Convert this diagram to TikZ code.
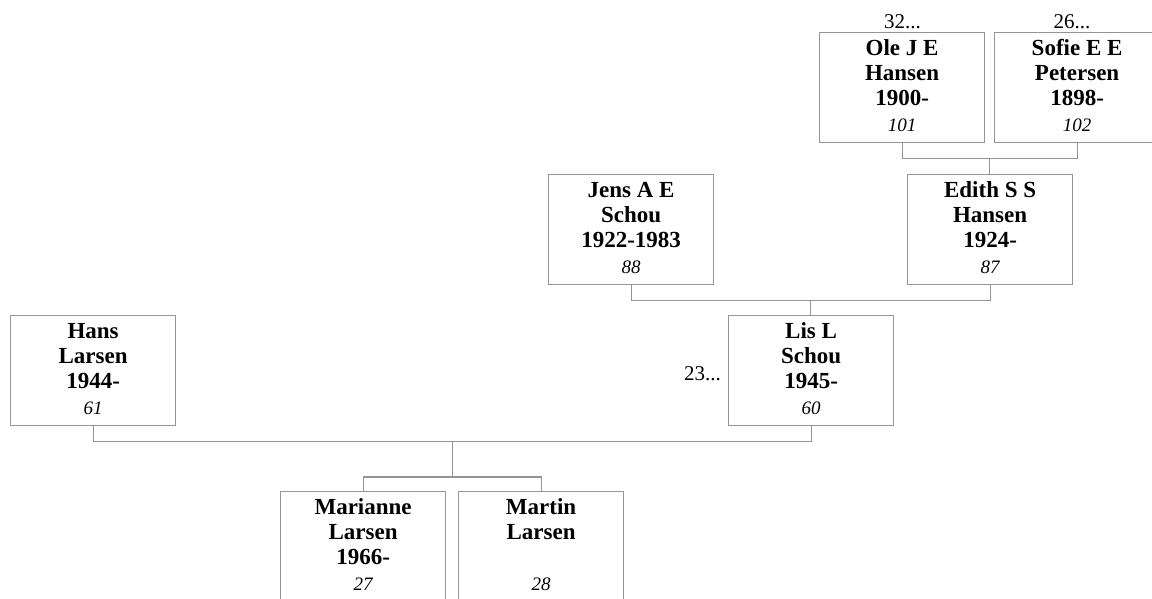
\documentclass[tikz,border=0pt]{standalone}
\usepackage{fontspec}
\setmainfont{Liberation Serif}
\usetikzlibrary{calc}
\definecolor{boxgray}{gray}{0.58}
\tikzset{
  pbox/.style={draw=boxgray, line width=1.2pt, minimum width=165pt, minimum height=110pt, inner sep=0pt, anchor=north west},
  nametext/.style={anchor=base, inner sep=0pt, font=\bfseries\fontsize{23}{25}\selectfont},
  numtext/.style={anchor=base, inner sep=0pt, font=\itshape\fontsize{19}{20}\selectfont},
  moretext/.style={inner sep=0pt, font=\fontsize{21}{22}\selectfont},
  conn/.style={draw=boxgray, line width=1.2pt}
}
\newcommand{\personbox}[5]{%
  \node[pbox] (#1) at (#2,#3) {};
  \foreach \l [count=\i] in {#4} {
    \node[nametext] (#1-l\i) at ($(#1.north)+(0,23+25*\i-25)$) {\l};
  }
  \node[numtext] (#1-n) at ($(#1.north)+(0,99)$) {#5};
}
\begin{document}
\begin{tikzpicture}[x=1pt,y=-1pt]
\useasboundingbox (0,0) rectangle (1152,598);
\personbox{ole}{819}{32}{Ole J E,Hansen,1900-}{101}
\personbox{sofie}{994}{32}{Sofie E E,Petersen,1898-}{102}
\personbox{jens}{548}{174}{Jens A E,Schou,1922-1983}{88}
\personbox{edith}{907}{174}{Edith S S,Hansen,1924-}{87}
\personbox{hans}{10}{315}{Hans,Larsen,1944-}{61}
\personbox{lis}{728}{315}{Lis L,Schou,1945-}{60}
\personbox{marianne}{280}{491}{Marianne,Larsen,1966-}{27}
\personbox{martin}{458}{491}{Martin,Larsen}{28}

\node[moretext, anchor=base] (ole-more) at (902.5,28) {32...};
\node[moretext, anchor=base] (sofie-more) at (1072,28) {26...};
\node[moretext, anchor=base east] (lis-more) at (721,380) {23...};

% Ole + Sofie -> Edith
\draw[conn] (ole.south) -- ++(0,15) -| (sofie.south);
\coordinate (j1) at ($(ole.south)!0.5!(sofie.south)+(0,15)$);
\draw[conn] (j1) -- (j1 |- edith.north);
% Jens + Edith -> Lis
\draw[conn] (jens.south) -- ++(0,15) -| (edith.south);
\coordinate (j2) at ($(jens.south)!0.5!(edith.south)+(0,15)$);
\draw[conn] (j2) -- (j2 |- lis.north);
% Hans + Lis -> children
\draw[conn] (hans.south) -- ++(0,15) -| (lis.south);
\coordinate (j3) at ($(hans.south)!0.5!(lis.south)+(0,15)$);
\coordinate (k3) at ($(marianne.north)+(0,-14)$);
\draw[conn] (j3) -- (j3 |- k3);
\draw[conn] (marianne.north) -- (k3) -| (martin.north);
\end{tikzpicture}
\end{document}
